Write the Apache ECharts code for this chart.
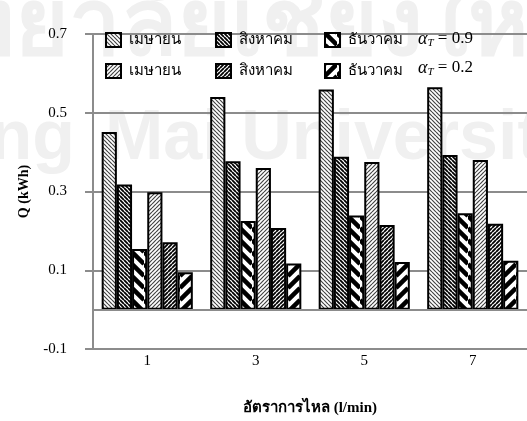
<!DOCTYPE html>
<html>
<head>
<meta charset="utf-8">
<script src="https://cdn.jsdelivr.net/npm/echarts@6/dist/echarts.min.js"></script>
<style>
html,body{margin:0;padding:0;background:#fff;}
#chart{width:527px;height:421px;}
</style>
</head>
<body>
<div id="chart"></div>
<script>
// ---- data ----
const categories = ['1', '3', '5', '7'];
const months = ['เมษายน', 'สิงหาคม', 'ธันวาคม'];
const alphaLabels = ['0.9', '0.2'];
const aprHigh = [0.451, 0.540, 0.559, 0.565];
const augHigh = [0.318, 0.377, 0.388, 0.393];
const decHigh = [0.154, 0.225, 0.239, 0.245];
const aprLow  = [0.298, 0.360, 0.375, 0.380];
const augLow  = [0.171, 0.207, 0.215, 0.218];
const decLow  = [0.095, 0.117, 0.121, 0.124];
const yTicks = [-0.1, 0.1, 0.3, 0.5, 0.7];

// ---- patterns ----
function makePattern(size, dir, lw, color) {
  const c = document.createElement('canvas');
  c.width = size; c.height = size;
  const ctx = c.getContext('2d');
  ctx.fillStyle = '#fff';
  ctx.fillRect(0, 0, size, size);
  ctx.strokeStyle = color;
  ctx.lineWidth = lw;
  ctx.beginPath();
  for (let k = -1; k <= 2; k++) {
    if (dir === 'down') {
      ctx.moveTo(0, k * size); ctx.lineTo(size, (k + 1) * size);
    } else {
      ctx.moveTo(0, k * size); ctx.lineTo(size, (k - 1) * size);
    }
  }
  ctx.stroke();
  return { image: c, repeat: 'repeat' };
}
const patterns = [
  makePattern(4, 'down', 1.2, '#444'),
  makePattern(4, 'down', 1.8, '#000'),
  makePattern(12, 'down', 4.5, '#000'),
  makePattern(4, 'up', 1.2, '#444'),
  makePattern(4, 'up', 1.8, '#000'),
  makePattern(12, 'up', 4.5, '#000')
];

const seriesData = [aprHigh, augHigh, decHigh, aprLow, augLow, decLow];
const seriesNames = [];
alphaLabels.forEach(a => months.forEach(m => seriesNames.push(m + ' (' + a + ')')));

const serif = 'Liberation Serif, Times New Roman, serif';
const gray = '#8c8c8c';

const series = seriesData.map((d, i) => {
  const s = {
    name: seriesNames[i],
    type: 'bar',
    data: d,
    barGap: '0%',
    barCategoryGap: '16%',
    itemStyle: { color: patterns[i], borderColor: '#000', borderWidth: 2 },
    emphasis: { disabled: true },
    z: 3
  };
  if (i === 0) {
    s.markLine = {
      silent: true, symbol: 'none', animation: false,
      label: { show: false },
      lineStyle: { color: gray, width: 2, type: 'solid' },
      data: [{ yAxis: 0 }]
    };
  }
  return s;
});

const legendLefts = [100, 210, 319];
const legendTops = [27, 58];
const legends = seriesNames.map((n, i) => ({
  data: [n],
  left: legendLefts[i % 3], top: legendTops[Math.floor(i / 3)],
  itemWidth: 15, itemHeight: 14,
  icon: 'rect',
  selectedMode: false,
  itemStyle: { borderColor: '#000', borderWidth: 2 },
  formatter: t => t.split(' (')[0],
  textStyle: { fontSize: 15, color: '#000', fontFamily: serif, padding: [0, 0, 0, 3] }
}));

const chart = echarts.init(document.getElementById('chart'), null, { renderer: 'canvas' });
const wm = '#f0f0f0';
const richAlpha = {
  a: { fontFamily: serif, fontStyle: 'italic', fontSize: 18, fill: '#000', lineHeight: 20 },
  s: { fontFamily: serif, fontStyle: 'italic', fontSize: 11, fill: '#000', verticalAlign: 'bottom', lineHeight: 20 },
  b: { fontFamily: serif, fontSize: 17, fill: '#000', lineHeight: 20 }
};
chart.setOption({
  animation: false,
  backgroundColor: '#fff',
  grid: { left: 93, top: 34, width: 438, bottom: 71 },
  legend: legends,
  graphic: [
    { type: 'text', z: -10, x: 590, y: 28, style: { text: 'ลิขสิทธิ์มหาวิทยาลัยเชียงใหม่', fill: wm, font: 'bold 92px Noto Sans, sans-serif', textAlign: 'right', textVerticalAlign: 'middle' } },
    { type: 'text', z: -10, x: 75, y: 140, style: { text: 'Chiang', fill: wm, font: 'bold 70px Liberation Sans, Arial, sans-serif', textAlign: 'right', textVerticalAlign: 'middle' } },
    { type: 'text', z: -10, x: 105, y: 140, style: { text: 'Mai University', fill: wm, font: 'bold 70px Liberation Sans, Arial, sans-serif', textAlign: 'left', textVerticalAlign: 'middle' } },
    { type: 'text', z: 10, x: 418, y: 39, style: { text: '{a|α}{s|T}{b| = ' + alphaLabels[0] + '}', textVerticalAlign: 'middle', rich: richAlpha } },
    { type: 'text', z: 10, x: 418, y: 68, style: { text: '{a|α}{s|T}{b| = ' + alphaLabels[1] + '}', textVerticalAlign: 'middle', rich: richAlpha } }
  ],
  xAxis: {
    type: 'category',
    data: categories,
    axisLine: { onZero: false, lineStyle: { color: gray, width: 2 } },
    axisTick: { show: false },
    axisLabel: { fontFamily: serif, fontSize: 15, color: '#000', margin: 5 },
    name: 'อัตราการไหล (l/min)',
    nameLocation: 'middle',
    nameGap: 52,
    nameTextStyle: { fontFamily: serif, fontSize: 15, fontWeight: 'bold', color: '#000' }
  },
  yAxis: {
    type: 'value',
    min: yTicks[0],
    max: yTicks[yTicks.length - 1],
    interval: 0.2,
    axisLine: { show: true, lineStyle: { color: gray, width: 2 } },
    axisTick: { show: true, length: 8, lineStyle: { color: gray, width: 2 } },
    splitLine: { show: true, lineStyle: { color: gray, width: 2 } },
    axisLabel: { fontFamily: serif, fontSize: 15, color: '#000', margin: 26, formatter: v => (Math.round(v * 10) / 10).toString() },
    name: 'Q (kWh)',
    nameLocation: 'middle',
    nameGap: 62,
    nameTextStyle: { fontFamily: serif, fontSize: 14, fontWeight: 'bold', color: '#000' }
  },
  series: series
});
</script>
</body>
</html>
